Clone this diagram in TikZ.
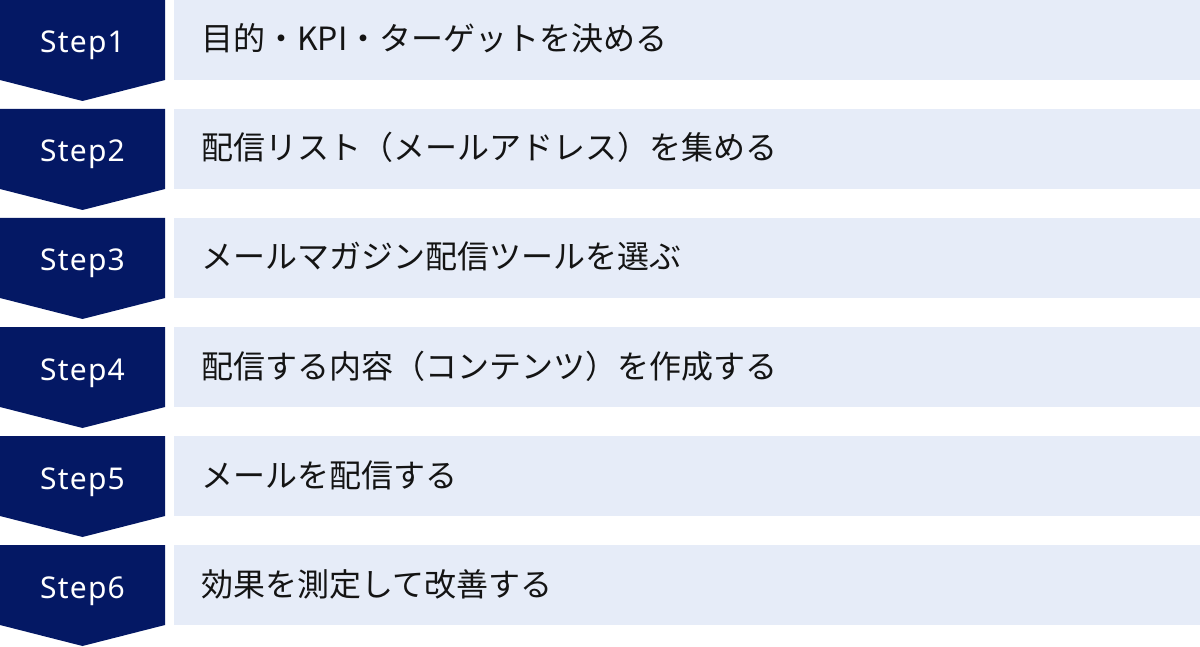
\documentclass[tikz,border=0pt]{standalone}
\usepackage{fontspec}
\newfontfamily\jpfont{Noto Sans CJK JP}
\newfontfamily\stepfont[LetterSpace=4]{Noto Sans}
\definecolor{stepnavy}{HTML}{041864}
\definecolor{taskfill}{HTML}{E6ECF8}
\definecolor{taskink}{HTML}{141414}

\begin{document}
\begin{tikzpicture}[x=1bp, y=-1bp,
  steplabel/.style={anchor=base, text=white, inner sep=0pt, font=\stepfont\fontsize{30bp}{36bp}\selectfont},
  tasklabel/.style={anchor=base west, text=taskink, inner sep=0pt, font=\jpfont\fontsize{32bp}{38bp}\selectfont}]
\useasboundingbox (0, 0) rectangle (1200, 647);
\fill[stepnavy] (0, 0) -- (165, 0) -- (165, 80) -- (82.5, 101) -- (0, 80) -- cycle ; % Step.1
\fill[stepnavy] (0, 109) -- (165, 109) -- (165, 189) -- (82.5, 210) -- (0, 189) -- cycle ; % Step.2
\fill[stepnavy] (0, 218) -- (165, 218) -- (165, 298) -- (82.5, 319) -- (0, 298) -- cycle ; % Step.3
\fill[stepnavy] (0, 327) -- (165, 327) -- (165, 407) -- (82.5, 428) -- (0, 407) -- cycle ; % Step.4
\fill[stepnavy] (0, 436) -- (165, 436) -- (165, 516) -- (82.5, 537) -- (0, 516) -- cycle ; % Step.5
\fill[stepnavy] (0, 545) -- (165, 545) -- (165, 625) -- (82.5, 646) -- (0, 625) -- cycle ; % Step.6
\fill[taskfill] (174, 0) rectangle (1200, 80) ; % Task.1
\fill[taskfill] (174, 109) rectangle (1200, 189) ; % Task.2
\fill[taskfill] (174, 218) rectangle (1200, 298) ; % Task.3
\fill[taskfill] (174, 327) rectangle (1200, 407) ; % Task.4
\fill[taskfill] (174, 436) rectangle (1200, 516) ; % Task.5
\fill[taskfill] (174, 545) rectangle (1200, 625) ; % Task.6
\node[steplabel] (step1) at (82.5, 53) {Step1};
\node[steplabel] (step2) at (82.5, 162) {Step2};
\node[steplabel] (step3) at (82.5, 271) {Step3};
\node[steplabel] (step4) at (82.5, 380) {Step4};
\node[steplabel] (step5) at (82.5, 489) {Step5};
\node[steplabel] (step6) at (82.5, 598) {Step6};
\node[tasklabel] (task1) at (201, 51) {目的・KPI・ターゲットを決める};
\node[tasklabel] (task2) at (201, 160) {配信リスト（メールアドレス）を集める};
\node[tasklabel] (task3) at (201, 269) {メールマガジン配信ツールを選ぶ};
\node[tasklabel] (task4) at (201, 378) {配信する内容（コンテンツ）を作成する};
\node[tasklabel] (task5) at (201, 487) {メールを配信する};
\node[tasklabel] (task6) at (201, 596) {効果を測定して改善する};

\end{tikzpicture}
\end{document}
